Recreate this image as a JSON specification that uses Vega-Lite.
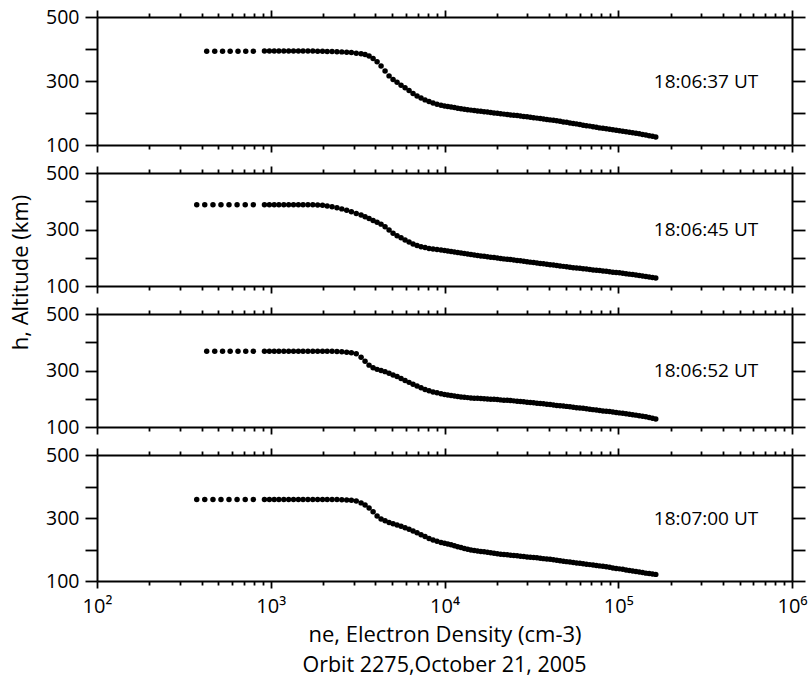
{
"$schema":"https://vega.github.io/schema/vega-lite/v6.json",
"background":"white",
"padding":{"left":9,"top":7,"right":5,"bottom":0},
"bounds":"flush",
"spacing":28,
"title":{"text":"Orbit 2275,October 21, 2005","orient":"bottom","anchor":"middle","frame":"group","fontSize":21.5,"fontWeight":"normal","font":"Open Sans","color":"black","offset":10},
"config":{"view":{"stroke":null},"font":"Open Sans",
"axis":{"domainColor":"black","domainWidth":2,"tickColor":"black","tickWidth":1.8,"labelColor":"black","titleColor":"black","grid":false,"labelFont":"Open Sans","titleFont":"Open Sans","titleFontWeight":"normal","labelFontSize":19.5,"titleFontSize":22}},
"datasets":{
"p1":[{"ne":428,"h":393},{"ne":476,"h":393},{"ne":528,"h":393},{"ne":584,"h":393},{"ne":648,"h":393},{"ne":718,"h":393},{"ne":794,"h":393},
{"ne":920,"h":394},{"ne":982,"h":394},{"ne":1047,"h":394},{"ne":1114,"h":394},{"ne":1189,"h":394},{"ne":1268,"h":394},{"ne":1352,"h":394},{"ne":1442,"h":394},{"ne":1535,"h":394},{"ne":1637,"h":393.5},{"ne":1746,"h":393.5},{"ne":1862,"h":393},{"ne":1986,"h":393},{"ne":2113,"h":392.5},{"ne":2254,"h":392},{"ne":2404,"h":391.5},{"ne":2564,"h":391},{"ne":2735,"h":390},{"ne":2911,"h":389},{"ne":3105,"h":387},{"ne":3311,"h":385},{"ne":3491,"h":383},{"ne":3681,"h":378},{"ne":3882,"h":370},{"ne":4093,"h":360},{"ne":4315,"h":347},{"ne":4550,"h":331},{"ne":4797,"h":316},{"ne":5058,"h":305},{"ne":5333,"h":296},{"ne":5623,"h":287},{"ne":5929,"h":279},{"ne":6252,"h":270},{"ne":6592,"h":261},{"ne":6950,"h":253},{"ne":7328,"h":247},{"ne":7727,"h":241},{"ne":8147,"h":236},{"ne":8590,"h":231},{"ne":9057,"h":227},{"ne":9550,"h":224},
{"ne":10000,"h":222},{"ne":10447,"h":220},{"ne":10914,"h":218.5},{"ne":11402,"h":217},{"ne":11912,"h":215},{"ne":12445,"h":213.5},{"ne":13002,"h":212},{"ne":13583,"h":210.5},{"ne":14191,"h":209},{"ne":14825,"h":208},{"ne":15488,"h":206.5},{"ne":16181,"h":205.5},{"ne":16904,"h":204},{"ne":17660,"h":203},{"ne":18450,"h":201.5},{"ne":19275,"h":200},{"ne":20137,"h":199},{"ne":21038,"h":197.5},{"ne":21979,"h":196.5},{"ne":22961,"h":195.5},{"ne":23988,"h":194},{"ne":25061,"h":193},{"ne":26182,"h":192},{"ne":27353,"h":190.5},{"ne":28576,"h":189},{"ne":29854,"h":188},{"ne":31189,"h":186.5},{"ne":32584,"h":185},{"ne":34041,"h":184},{"ne":35563,"h":182.5},{"ne":37154,"h":181},{"ne":38815,"h":180},{"ne":40551,"h":178.5},{"ne":42364,"h":177},{"ne":44259,"h":175.5},{"ne":46238,"h":174},{"ne":48306,"h":172},{"ne":50466,"h":171},{"ne":52723,"h":169},{"ne":55081,"h":167.5},{"ne":57544,"h":166},{"ne":60117,"h":164},{"ne":62806,"h":162},{"ne":65615,"h":160.5},{"ne":68549,"h":159},{"ne":71614,"h":157},{"ne":74817,"h":155.5},{"ne":78163,"h":153.5},{"ne":81658,"h":152},{"ne":85310,"h":150.5},{"ne":89125,"h":149},{"ne":93111,"h":147.5},{"ne":97275,"h":146},{"ne":101625,"h":144.5},{"ne":106170,"h":143},{"ne":110917,"h":141.5},{"ne":115878,"h":140},{"ne":121060,"h":138.5},{"ne":126474,"h":137},{"ne":132130,"h":135},{"ne":138038,"h":133},{"ne":144212,"h":131},{"ne":150661,"h":129},{"ne":157398,"h":127},{"ne":164437,"h":125}],
"p2":[{"ne":375,"h":388},{"ne":417,"h":388},{"ne":465,"h":388},{"ne":517,"h":388},{"ne":575,"h":388},{"ne":640,"h":388},{"ne":713,"h":388},{"ne":794,"h":388},
{"ne":920,"h":388},{"ne":982,"h":388},{"ne":1047,"h":388},{"ne":1114,"h":388},{"ne":1189,"h":388},{"ne":1268,"h":388},{"ne":1352,"h":388},{"ne":1442,"h":388},{"ne":1535,"h":388},{"ne":1637,"h":388},{"ne":1746,"h":387.5},{"ne":1862,"h":387},{"ne":1986,"h":385.5},{"ne":2113,"h":383.5},{"ne":2254,"h":380.5},{"ne":2404,"h":377},{"ne":2564,"h":373},{"ne":2735,"h":368},{"ne":2911,"h":363},{"ne":3105,"h":357},{"ne":3311,"h":351},{"ne":3491,"h":345},{"ne":3681,"h":339},{"ne":3882,"h":332},{"ne":4093,"h":326},{"ne":4315,"h":319},{"ne":4550,"h":310},{"ne":4797,"h":298},{"ne":5058,"h":287},{"ne":5333,"h":278},{"ne":5623,"h":271},{"ne":5929,"h":263},{"ne":6252,"h":256},{"ne":6592,"h":249},{"ne":6950,"h":243},{"ne":7328,"h":239},{"ne":7727,"h":236},{"ne":8147,"h":233},{"ne":8590,"h":231},{"ne":9057,"h":229},{"ne":9550,"h":227.5},
{"ne":10000,"h":226},{"ne":10447,"h":224},{"ne":10914,"h":222},{"ne":11402,"h":220.5},{"ne":11912,"h":218.5},{"ne":12445,"h":216.5},{"ne":13002,"h":215},{"ne":13583,"h":213},{"ne":14191,"h":211.5},{"ne":14825,"h":210},{"ne":15488,"h":208},{"ne":16181,"h":206},{"ne":16904,"h":205},{"ne":17660,"h":203.5},{"ne":18450,"h":202},{"ne":19275,"h":200.5},{"ne":20137,"h":199},{"ne":21038,"h":197.5},{"ne":21979,"h":196},{"ne":22961,"h":194.5},{"ne":23988,"h":193.5},{"ne":25061,"h":192},{"ne":26182,"h":190.5},{"ne":27353,"h":189},{"ne":28576,"h":187.5},{"ne":29854,"h":186},{"ne":31189,"h":184.5},{"ne":32584,"h":183},{"ne":34041,"h":181.5},{"ne":35563,"h":180},{"ne":37154,"h":178.5},{"ne":38815,"h":177},{"ne":40551,"h":175.5},{"ne":42364,"h":174},{"ne":44259,"h":172.5},{"ne":46238,"h":171},{"ne":48306,"h":169.5},{"ne":50466,"h":168},{"ne":52723,"h":166.5},{"ne":55081,"h":165},{"ne":57544,"h":164},{"ne":60117,"h":162.5},{"ne":62806,"h":161},{"ne":65615,"h":160},{"ne":68549,"h":158.5},{"ne":71614,"h":157},{"ne":74817,"h":156},{"ne":78163,"h":154.5},{"ne":81658,"h":153},{"ne":85310,"h":152},{"ne":89125,"h":150.5},{"ne":93111,"h":149},{"ne":97275,"h":148},{"ne":101625,"h":146.5},{"ne":106170,"h":145},{"ne":110917,"h":143.5},{"ne":115878,"h":142},{"ne":121060,"h":140.5},{"ne":126474,"h":139},{"ne":132130,"h":137},{"ne":138038,"h":135.5},{"ne":144212,"h":134},{"ne":150661,"h":132},{"ne":157398,"h":130},{"ne":164437,"h":128}],
"p3":[{"ne":428,"h":368},{"ne":476,"h":368},{"ne":528,"h":368},{"ne":584,"h":368},{"ne":648,"h":368},{"ne":718,"h":368},{"ne":794,"h":368},
{"ne":920,"h":368},{"ne":982,"h":368},{"ne":1047,"h":368},{"ne":1114,"h":368},{"ne":1189,"h":368},{"ne":1268,"h":368},{"ne":1352,"h":368},{"ne":1442,"h":368},{"ne":1535,"h":368},{"ne":1637,"h":368},{"ne":1746,"h":368},{"ne":1862,"h":368},{"ne":1986,"h":368},{"ne":2113,"h":368},{"ne":2254,"h":368},{"ne":2404,"h":367.5},{"ne":2564,"h":366.5},{"ne":2735,"h":365},{"ne":2911,"h":363},{"ne":3105,"h":359},{"ne":3311,"h":347},{"ne":3491,"h":333},{"ne":3681,"h":319},{"ne":3882,"h":310},{"ne":4093,"h":304},{"ne":4315,"h":300},{"ne":4550,"h":296},{"ne":4797,"h":290},{"ne":5058,"h":284},{"ne":5333,"h":279},{"ne":5623,"h":272},{"ne":5929,"h":265},{"ne":6252,"h":258},{"ne":6592,"h":251},{"ne":6950,"h":245},{"ne":7328,"h":239},{"ne":7727,"h":233},{"ne":8147,"h":228},{"ne":8590,"h":224},{"ne":9057,"h":221},{"ne":9550,"h":218},
{"ne":10000,"h":215},{"ne":10447,"h":213},{"ne":10914,"h":211.5},{"ne":11402,"h":210},{"ne":11912,"h":208},{"ne":12445,"h":206.5},{"ne":13002,"h":205},{"ne":13583,"h":204},{"ne":14191,"h":203},{"ne":14825,"h":202},{"ne":15488,"h":201.5},{"ne":16181,"h":201},{"ne":16904,"h":200},{"ne":17660,"h":199.5},{"ne":18450,"h":198.5},{"ne":19275,"h":198},{"ne":20137,"h":197},{"ne":21038,"h":196},{"ne":21979,"h":195},{"ne":22961,"h":194.5},{"ne":23988,"h":193.5},{"ne":25061,"h":192.5},{"ne":26182,"h":191.5},{"ne":27353,"h":190},{"ne":28576,"h":189},{"ne":29854,"h":188},{"ne":31189,"h":186.5},{"ne":32584,"h":185.5},{"ne":34041,"h":184},{"ne":35563,"h":183},{"ne":37154,"h":182},{"ne":38815,"h":180.5},{"ne":40551,"h":179.5},{"ne":42364,"h":178},{"ne":44259,"h":176.5},{"ne":46238,"h":175.5},{"ne":48306,"h":174},{"ne":50466,"h":173},{"ne":52723,"h":171.5},{"ne":55081,"h":170},{"ne":57544,"h":168.5},{"ne":60117,"h":167.5},{"ne":62806,"h":166},{"ne":65615,"h":164.5},{"ne":68549,"h":163},{"ne":71614,"h":161.5},{"ne":74817,"h":160},{"ne":78163,"h":158.5},{"ne":81658,"h":157},{"ne":85310,"h":155.5},{"ne":89125,"h":154.5},{"ne":93111,"h":153},{"ne":97275,"h":151.5},{"ne":101625,"h":150},{"ne":106170,"h":148.5},{"ne":110917,"h":146.5},{"ne":115878,"h":145},{"ne":121060,"h":143.5},{"ne":126474,"h":142},{"ne":132130,"h":140},{"ne":138038,"h":138},{"ne":144212,"h":136},{"ne":150661,"h":134},{"ne":157398,"h":131},{"ne":164437,"h":128}],
"p4":[{"ne":375,"h":359},{"ne":417,"h":359},{"ne":465,"h":359},{"ne":517,"h":359},{"ne":575,"h":359},{"ne":640,"h":359},{"ne":713,"h":359},{"ne":794,"h":359},
{"ne":920,"h":359},{"ne":982,"h":359},{"ne":1047,"h":359},{"ne":1114,"h":359},{"ne":1189,"h":359},{"ne":1268,"h":359},{"ne":1352,"h":359},{"ne":1442,"h":359},{"ne":1535,"h":359},{"ne":1637,"h":359},{"ne":1746,"h":359},{"ne":1862,"h":359},{"ne":1986,"h":359},{"ne":2113,"h":359},{"ne":2254,"h":359},{"ne":2404,"h":358.5},{"ne":2564,"h":358},{"ne":2735,"h":357},{"ne":2911,"h":356},{"ne":3105,"h":354},{"ne":3311,"h":348},{"ne":3491,"h":341},{"ne":3681,"h":332},{"ne":3882,"h":320},{"ne":4093,"h":306},{"ne":4315,"h":297},{"ne":4550,"h":291},{"ne":4797,"h":286},{"ne":5058,"h":282},{"ne":5333,"h":278},{"ne":5623,"h":274},{"ne":5929,"h":269},{"ne":6252,"h":264},{"ne":6592,"h":259},{"ne":6950,"h":253},{"ne":7328,"h":247},{"ne":7727,"h":241},{"ne":8147,"h":235},{"ne":8590,"h":230},{"ne":9057,"h":226},{"ne":9550,"h":222.5},
{"ne":10000,"h":220},{"ne":10447,"h":217.5},{"ne":10914,"h":215},{"ne":11402,"h":212},{"ne":11912,"h":209},{"ne":12445,"h":206},{"ne":13002,"h":203},{"ne":13583,"h":200.5},{"ne":14191,"h":198.5},{"ne":14825,"h":197},{"ne":15488,"h":195.5},{"ne":16181,"h":194},{"ne":16904,"h":192.5},{"ne":17660,"h":191},{"ne":18450,"h":189.5},{"ne":19275,"h":188},{"ne":20137,"h":186.5},{"ne":21038,"h":185},{"ne":21979,"h":184},{"ne":22961,"h":183},{"ne":23988,"h":182},{"ne":25061,"h":181},{"ne":26182,"h":180},{"ne":27353,"h":178.5},{"ne":28576,"h":177.5},{"ne":29854,"h":176.5},{"ne":31189,"h":175.5},{"ne":32584,"h":174.5},{"ne":34041,"h":173.5},{"ne":35563,"h":172},{"ne":37154,"h":171},{"ne":38815,"h":170},{"ne":40551,"h":169},{"ne":42364,"h":167.5},{"ne":44259,"h":166},{"ne":46238,"h":164.5},{"ne":48306,"h":163},{"ne":50466,"h":161.5},{"ne":52723,"h":160.5},{"ne":55081,"h":159},{"ne":57544,"h":157.5},{"ne":60117,"h":156},{"ne":62806,"h":154.5},{"ne":65615,"h":153},{"ne":68549,"h":152},{"ne":71614,"h":150.5},{"ne":74817,"h":149.5},{"ne":78163,"h":148},{"ne":81658,"h":146.5},{"ne":85310,"h":145},{"ne":89125,"h":143.5},{"ne":93111,"h":141.5},{"ne":97275,"h":140},{"ne":101625,"h":138.5},{"ne":106170,"h":137},{"ne":110917,"h":135},{"ne":115878,"h":133.5},{"ne":121060,"h":132},{"ne":126474,"h":130},{"ne":132130,"h":128.5},{"ne":138038,"h":127},{"ne":144212,"h":125},{"ne":150661,"h":123.5},{"ne":157398,"h":122},{"ne":164437,"h":121}],
"labels":[{"panel":1,"ne":320000,"h":298,"label":"18:06:37 UT"},{"panel":2,"ne":320000,"h":298,"label":"18:06:45 UT"},{"panel":3,"ne":320000,"h":298,"label":"18:06:52 UT"},{"panel":4,"ne":320000,"h":298,"label":"18:07:00 UT"}]
},
"vconcat":[
{"width":695,"height":128,
"layer":[
{"data":{"name":"p1"},"mark":{"type":"circle","size":30,"color":"black","opacity":1},
"encoding":{"x":{"field":"ne","type":"quantitative","scale":{"type":"log","domain":[100,1000000],"nice":false},"axis":{"orient":"bottom","values":[100,200,300,400,500,600,700,800,900,1000,2000,3000,4000,5000,6000,7000,8000,9000,10000,20000,30000,40000,50000,60000,70000,80000,90000,100000,200000,300000,400000,500000,600000,700000,800000,900000,1000000],"labels":false,"title":null,"tickSize":{"condition":{"test":"indexof([100,1000,10000,100000,1000000], datum.value) >= 0","value":7},"value":4}}},
"y":{"field":"h","type":"quantitative","scale":{"domain":[100,500],"nice":false,"zero":false},"axis":{"orient":"left","values":[100,200,300,400,500],"tickSize":12,"labelPadding":6,"labelExpr":"datum.value == 200 || datum.value == 400 ? '' : datum.label","title":null}}}},
{"data":{"name":"p1"},"mark":{"type":"circle","opacity":0},
"encoding":{"x":{"field":"ne","type":"quantitative","scale":{"type":"log","domain":[100,1000000],"nice":false},"axis":{"orient":"top","values":[100,200,300,400,500,600,700,800,900,1000,2000,3000,4000,5000,6000,7000,8000,9000,10000,20000,30000,40000,50000,60000,70000,80000,90000,100000,200000,300000,400000,500000,600000,700000,800000,900000,1000000],"labels":false,"title":null,"tickSize":{"condition":{"test":"indexof([100,1000,10000,100000,1000000], datum.value) >= 0","value":7},"value":4}}},
"y":{"field":"h","type":"quantitative","scale":{"domain":[100,500],"nice":false,"zero":false},"axis":{"orient":"right","values":[100,200,300,400,500],"tickSize":13,"labels":false,"title":null}}}},
{"data":{"name":"labels"},"transform":[{"filter":"datum.panel == 1"}],"mark":{"type":"text","fontSize":19,"font":"Open Sans","color":"black"},
"encoding":{"x":{"field":"ne","type":"quantitative","scale":{"type":"log","domain":[100,1000000],"nice":false},"axis":null},"y":{"field":"h","type":"quantitative","scale":{"domain":[100,500],"nice":false,"zero":false},"axis":null},"text":{"field":"label"}}}
],
"resolve":{"axis":{"x":"independent","y":"independent"}}},
{"width":695,"height":113,
"layer":[
{"data":{"name":"p2"},"mark":{"type":"circle","size":30,"color":"black","opacity":1},
"encoding":{"x":{"field":"ne","type":"quantitative","scale":{"type":"log","domain":[100,1000000],"nice":false},"axis":{"orient":"bottom","values":[100,200,300,400,500,600,700,800,900,1000,2000,3000,4000,5000,6000,7000,8000,9000,10000,20000,30000,40000,50000,60000,70000,80000,90000,100000,200000,300000,400000,500000,600000,700000,800000,900000,1000000],"labels":false,"title":null,"tickSize":{"condition":{"test":"indexof([100,1000,10000,100000,1000000], datum.value) >= 0","value":7},"value":4}}},
"y":{"field":"h","type":"quantitative","scale":{"domain":[100,500],"nice":false,"zero":false},"axis":{"orient":"left","values":[100,200,300,400,500],"tickSize":12,"labelPadding":6,"labelExpr":"datum.value == 200 || datum.value == 400 ? '' : datum.label","title":"h, Altitude (km)","titleY":99,"titlePadding":13}}}},
{"data":{"name":"p2"},"mark":{"type":"circle","opacity":0},
"encoding":{"x":{"field":"ne","type":"quantitative","scale":{"type":"log","domain":[100,1000000],"nice":false},"axis":{"orient":"top","values":[100,200,300,400,500,600,700,800,900,1000,2000,3000,4000,5000,6000,7000,8000,9000,10000,20000,30000,40000,50000,60000,70000,80000,90000,100000,200000,300000,400000,500000,600000,700000,800000,900000,1000000],"labels":false,"title":null,"tickSize":{"condition":{"test":"indexof([100,1000,10000,100000,1000000], datum.value) >= 0","value":7},"value":4}}},
"y":{"field":"h","type":"quantitative","scale":{"domain":[100,500],"nice":false,"zero":false},"axis":{"orient":"right","values":[100,200,300,400,500],"tickSize":13,"labels":false,"title":null}}}},
{"data":{"name":"labels"},"transform":[{"filter":"datum.panel == 2"}],"mark":{"type":"text","fontSize":19,"font":"Open Sans","color":"black"},
"encoding":{"x":{"field":"ne","type":"quantitative","scale":{"type":"log","domain":[100,1000000],"nice":false},"axis":null},"y":{"field":"h","type":"quantitative","scale":{"domain":[100,500],"nice":false,"zero":false},"axis":null},"text":{"field":"label"}}}
],
"resolve":{"axis":{"x":"independent","y":"independent"}}},
{"width":695,"height":113,
"layer":[
{"data":{"name":"p3"},"mark":{"type":"circle","size":30,"color":"black","opacity":1},
"encoding":{"x":{"field":"ne","type":"quantitative","scale":{"type":"log","domain":[100,1000000],"nice":false},"axis":{"orient":"bottom","values":[100,200,300,400,500,600,700,800,900,1000,2000,3000,4000,5000,6000,7000,8000,9000,10000,20000,30000,40000,50000,60000,70000,80000,90000,100000,200000,300000,400000,500000,600000,700000,800000,900000,1000000],"labels":false,"title":null,"tickSize":{"condition":{"test":"indexof([100,1000,10000,100000,1000000], datum.value) >= 0","value":7},"value":4}}},
"y":{"field":"h","type":"quantitative","scale":{"domain":[100,500],"nice":false,"zero":false},"axis":{"orient":"left","values":[100,200,300,400,500],"tickSize":12,"labelPadding":6,"labelExpr":"datum.value == 200 || datum.value == 400 ? '' : datum.label","title":null}}}},
{"data":{"name":"p3"},"mark":{"type":"circle","opacity":0},
"encoding":{"x":{"field":"ne","type":"quantitative","scale":{"type":"log","domain":[100,1000000],"nice":false},"axis":{"orient":"top","values":[100,200,300,400,500,600,700,800,900,1000,2000,3000,4000,5000,6000,7000,8000,9000,10000,20000,30000,40000,50000,60000,70000,80000,90000,100000,200000,300000,400000,500000,600000,700000,800000,900000,1000000],"labels":false,"title":null,"tickSize":{"condition":{"test":"indexof([100,1000,10000,100000,1000000], datum.value) >= 0","value":7},"value":4}}},
"y":{"field":"h","type":"quantitative","scale":{"domain":[100,500],"nice":false,"zero":false},"axis":{"orient":"right","values":[100,200,300,400,500],"tickSize":13,"labels":false,"title":null}}}},
{"data":{"name":"labels"},"transform":[{"filter":"datum.panel == 3"}],"mark":{"type":"text","fontSize":19,"font":"Open Sans","color":"black"},
"encoding":{"x":{"field":"ne","type":"quantitative","scale":{"type":"log","domain":[100,1000000],"nice":false},"axis":null},"y":{"field":"h","type":"quantitative","scale":{"domain":[100,500],"nice":false,"zero":false},"axis":null},"text":{"field":"label"}}}
],
"resolve":{"axis":{"x":"independent","y":"independent"}}},
{"width":695,"height":126,
"layer":[
{"data":{"name":"p4"},"mark":{"type":"circle","size":30,"color":"black","opacity":1},
"encoding":{"x":{"field":"ne","type":"quantitative","scale":{"type":"log","domain":[100,1000000],"nice":false},"axis":{"orient":"bottom","values":[100,200,300,400,500,600,700,800,900,1000,2000,3000,4000,5000,6000,7000,8000,9000,10000,20000,30000,40000,50000,60000,70000,80000,90000,100000,200000,300000,400000,500000,600000,700000,800000,900000,1000000],"labels":true,"labelFontSize":20,"labelFlush":false,"labelOverlap":false,"labelPadding":8,"labelExpr":"datum.value == 100 ? '10²' : datum.value == 1000 ? '10³' : datum.value == 10000 ? '10⁴' : datum.value == 100000 ? '10⁵' : datum.value == 1000000 ? '10⁶' : ''","title":"ne, Electron Density (cm-3)","titlePadding":8,"tickSize":{"condition":{"test":"indexof([100,1000,10000,100000,1000000], datum.value) >= 0","value":7},"value":4}}},
"y":{"field":"h","type":"quantitative","scale":{"domain":[100,500],"nice":false,"zero":false},"axis":{"orient":"left","values":[100,200,300,400,500],"tickSize":12,"labelPadding":6,"labelExpr":"datum.value == 200 || datum.value == 400 ? '' : datum.label","title":null}}}},
{"data":{"name":"p4"},"mark":{"type":"circle","opacity":0},
"encoding":{"x":{"field":"ne","type":"quantitative","scale":{"type":"log","domain":[100,1000000],"nice":false},"axis":{"orient":"top","values":[100,200,300,400,500,600,700,800,900,1000,2000,3000,4000,5000,6000,7000,8000,9000,10000,20000,30000,40000,50000,60000,70000,80000,90000,100000,200000,300000,400000,500000,600000,700000,800000,900000,1000000],"labels":false,"title":null,"tickSize":{"condition":{"test":"indexof([100,1000,10000,100000,1000000], datum.value) >= 0","value":7},"value":4}}},
"y":{"field":"h","type":"quantitative","scale":{"domain":[100,500],"nice":false,"zero":false},"axis":{"orient":"right","values":[100,200,300,400,500],"tickSize":13,"labels":false,"title":null}}}},
{"data":{"name":"labels"},"transform":[{"filter":"datum.panel == 4"}],"mark":{"type":"text","fontSize":19,"font":"Open Sans","color":"black"},
"encoding":{"x":{"field":"ne","type":"quantitative","scale":{"type":"log","domain":[100,1000000],"nice":false},"axis":null},"y":{"field":"h","type":"quantitative","scale":{"domain":[100,500],"nice":false,"zero":false},"axis":null},"text":{"field":"label"}}}
],
"resolve":{"axis":{"x":"independent","y":"independent"}}}
]
}
